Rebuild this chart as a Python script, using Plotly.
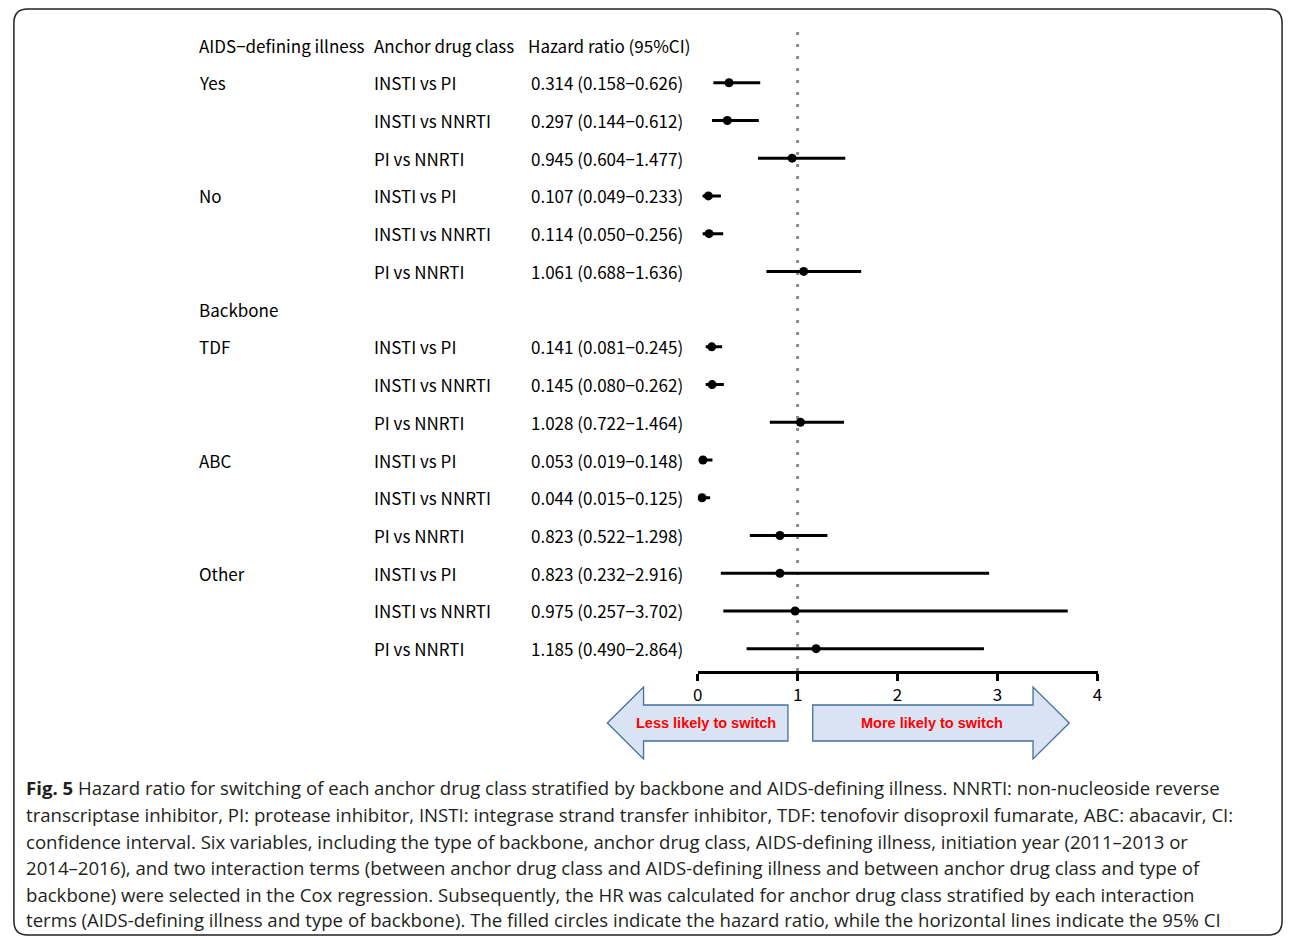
import plotly.graph_objects as go

W, H = 1295, 938
OFF = 8                      # default page body margin
FW, FH = W - OFF, H - OFF    # figure size

# ---------------- data ----------------
header = ["AIDS\u2212defining illness", "Anchor drug class", "Hazard ratio (95%CI)"]
strata = ["Yes", "", "", "No", "", "", "TDF", "", "", "ABC", "", "", "Other", "", ""]
section_label = "Backbone"
comparisons = ["INSTI vs PI", "INSTI vs NNRTI", "PI vs NNRTI"] * 5
hr = [0.314, 0.297, 0.945, 0.107, 0.114, 1.061, 0.141, 0.145, 1.028,
      0.053, 0.044, 0.823, 0.823, 0.975, 1.185]
lo = [0.158, 0.144, 0.604, 0.049, 0.050, 0.688, 0.081, 0.080, 0.722,
      0.019, 0.015, 0.522, 0.232, 0.257, 0.490]
hi = [0.626, 0.612, 1.477, 0.233, 0.256, 1.636, 0.245, 0.262, 1.464,
      0.148, 0.125, 1.298, 2.916, 3.702, 2.864]
x_ticks = [0, 1, 2, 3, 4]
ref_value = 1
arrow_left_text = "Less likely to switch"
arrow_right_text = "More likely to switch"
caption_lines = [
    "<b>Fig. 5</b> Hazard ratio for switching of each anchor drug class stratified by backbone and AIDS-defining illness. NNRTI: non-nucleoside reverse",
    "transcriptase inhibitor, PI: protease inhibitor, INSTI: integrase strand transfer inhibitor, TDF: tenofovir disoproxil fumarate, ABC: abacavir, CI:",
    "confidence interval. Six variables, including the type of backbone, anchor drug class, AIDS-defining illness, initiation year (2011\u20132013 or",
    "2014\u20132016), and two interaction terms (between anchor drug class and AIDS-defining illness and between anchor drug class and type of",
    "backbone) were selected in the Cox regression. Subsequently, the HR was calculated for anchor drug class stratified by each interaction",
    "terms (AIDS-defining illness and type of backbone). The filled circles indicate the hazard ratio, while the horizontal lines indicate the 95% CI",
]

# ---------------- layout helpers (page pixels -> paper) ----------------
def px(x):
    return (x - OFF) / FW

def py(y):
    return 1 - (y - OFF) / FH

ROW0, ROWH = 45, 37.73
AX_Y, TOP_Y = 671, 20
rows = [i + 1 + (1 if i >= 6 else 0) for i in range(len(hr))]
section_row = 7

FONT = "Noto Sans CJK JP"
TXT = 17

fig = go.Figure()

fig.add_trace(go.Scatter(
    x=hr, y=rows, mode="markers",
    marker=dict(color="black", size=9),
    error_x=dict(type="data", symmetric=False,
                 array=[h - v for h, v in zip(hi, hr)],
                 arrayminus=[v - l for v, l in zip(hr, lo)],
                 color="black", thickness=3, width=0),
    showlegend=False, hoverinfo="skip",
))

ann = []

def txt(xpx, row, t):
    ann.append(dict(x=px(xpx), xref="paper", y=row, yref="y", text=t,
                    xanchor="left", yanchor="middle", showarrow=False,
                    font=dict(family=FONT, size=TXT, color="black")))

C1, C2, C3 = 193, 370, 528
for xpx, t in zip([C1, C2, C3 - 3], header):
    txt(xpx, 0, t)
for i, r in enumerate(rows):
    if strata[i]:
        txt(C1, r, strata[i])
    txt(C2, r, comparisons[i])
    txt(C3, r, f"{hr[i]:.3f} ({lo[i]:.3f}\u2212{hi[i]:.3f})")
txt(C1, section_row, section_label)

# arrow texts
ann.append(dict(x=px(706), xref="paper", y=py(723), yref="paper", text=f"<b>{arrow_left_text}</b>",
                showarrow=False, xanchor="center", yanchor="middle",
                font=dict(family="Liberation Sans", size=14.5, color="#ff0000")))
ann.append(dict(x=px(934), xref="paper", y=py(723), yref="paper", text=f"<b>{arrow_right_text}</b>",
                showarrow=False, xanchor="center", yanchor="middle",
                font=dict(family="Liberation Sans", size=14.5, color="#ff0000")))

# caption
cap_y = [787, 814, 841, 867, 894, 919]
for yy, line in zip(cap_y, caption_lines):
    ann.append(dict(x=px(19), xref="paper", y=py(yy), yref="paper", text=line,
                    showarrow=False, xanchor="left", yanchor="middle",
                    font=dict(family="Open Sans", size=18.6, color="#231f20")))

def poly(points):
    return "M " + " L ".join(f"{px(x):.5f},{py(y):.5f}" for x, y in points) + " Z"

shapes = []
# reference dotted line
shapes.append(dict(type="line", xref="x", x0=ref_value, x1=ref_value,
                   yref="paper", y0=py(AX_Y), y1=py(26),
                   line=dict(color="#8a8a8a", width=3, dash="3px,9px"), layer="below"))
# arrows
left_arrow = [(607, 723), (643.5, 687), (643.5, 705), (789, 705), (789, 741), (643.5, 741), (643.5, 759)]
right_arrow = [(814, 705), (1036, 705), (1036, 687), (1072.5, 723), (1036, 759), (1036, 741), (814, 741)]
for pts in (left_arrow, right_arrow):
    shapes.append(dict(type="path", xref="paper", yref="paper", path=poly(pts),
                       fillcolor="#dae3f3", line=dict(color="#41719c", width=1.3), layer="below"))
# frame with rounded corners
x0, y0, x1, y1, rr = 8.9, 8.9, 1287, 935, 14
frame = (f"M {px(x0+rr)},{py(y0)} L {px(x1-rr)},{py(y0)} Q {px(x1)},{py(y0)} {px(x1)},{py(y0+rr)} "
         f"L {px(x1)},{py(y1-rr)} Q {px(x1)},{py(y1)} {px(x1-rr)},{py(y1)} "
         f"L {px(x0+rr)},{py(y1)} Q {px(x0)},{py(y1)} {px(x0)},{py(y1-rr)} "
         f"L {px(x0)},{py(y0+rr)} Q {px(x0)},{py(y0)} {px(x0+rr)},{py(y0)} Z")
shapes.append(dict(type="path", xref="paper", yref="paper", path=frame,
                   line=dict(color="#222222", width=1.5), layer="below"))

fig.update_layout(
    width=FW, height=FH,
    margin=dict(l=0, r=0, t=0, b=0, pad=0),
    paper_bgcolor="white", plot_bgcolor="rgba(0,0,0,0)",
    showlegend=False,
    xaxis=dict(domain=[px(698), px(1101)], range=[0, 4], tickvals=x_ticks,
               showline=True, linecolor="black", linewidth=2.5,
               ticks="outside", ticklen=7, tickwidth=2.5, tickcolor="black",
               showgrid=False, zeroline=False,
               tickfont=dict(family=FONT, size=TXT, color="black")),
    yaxis=dict(domain=[py(AX_Y), py(TOP_Y)],
               range=[(AX_Y - ROW0) / ROWH, (TOP_Y - ROW0) / ROWH],
               visible=False, showgrid=False, zeroline=False),
    annotations=ann, shapes=shapes,
)

fig.write_html("out.html")
